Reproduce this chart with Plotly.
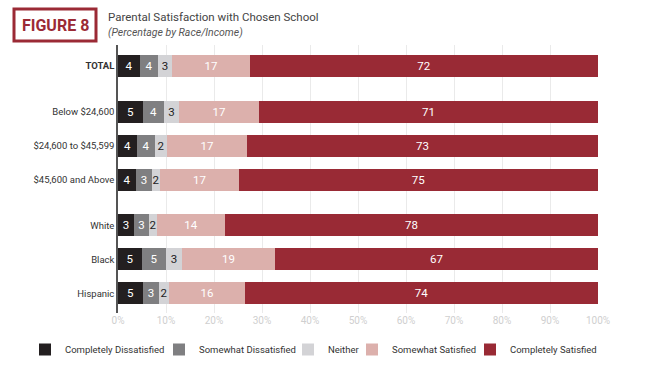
import plotly.graph_objects as go

categories = ["TOTAL", "Below $24,600", "$24,600 to $45,599", "$45,600 and Above",
              "White", "Black", "Hispanic"]
groups = [0, 1, 1, 1, 2, 2, 2]
series_names = ["Completely Dissatisfied", "Somewhat Dissatisfied", "Neither",
                "Somewhat Satisfied", "Completely Satisfied"]

# bar lengths (percent)
completely_dissatisfied = [4.5, 5.2, 4.0, 3.7, 3.3, 4.9, 5.2]
somewhat_dissatisfied = [3.8, 4.3, 3.8, 3.3, 3.1, 5.2, 3.3]
neither = [3.0, 3.2, 2.4, 1.7, 1.7, 3.3, 2.1]
somewhat_satisfied = [16.3, 16.6, 16.6, 16.6, 14.2, 19.4, 15.8]
completely_satisfied = [72.4, 70.7, 73.2, 74.7, 77.6, 67.3, 73.6]

# printed labels
lbl_completely_dissatisfied = [4, 5, 4, 4, 3, 5, 5]
lbl_somewhat_dissatisfied = [4, 4, 4, 3, 3, 5, 3]
lbl_neither = [3, 3, 2, 2, 2, 3, 2]
lbl_somewhat_satisfied = [17, 17, 17, 17, 14, 19, 16]
lbl_completely_satisfied = [72, 71, 73, 75, 78, 67, 74]

tick_vals = [0, 10, 20, 30, 40, 50, 60, 70, 80, 90, 100]
tick_text = ["0%", "10%", "20%", "30%", "40%", "50%", "60%", "70%", "80%", "90%", "100%"]

colors = ["#231f20", "#7f7f81", "#d3d3d6", "#dcb0ac", "#992a35"]
text_colors = ["#ffffff", "#ffffff", "#222222", "#ffffff", "#ffffff"]

values = [completely_dissatisfied, somewhat_dissatisfied, neither,
          somewhat_satisfied, completely_satisfied]
labels = [lbl_completely_dissatisfied, lbl_somewhat_dissatisfied, lbl_neither,
          lbl_somewhat_satisfied, lbl_completely_satisfied]

# vertical layout: rows stacked top to bottom, extra gap between groups
gap = 0.34
n = len(categories)
ypos = [(n - 1 - i) + (groups[-1] - groups[i]) * gap for i in range(n)]

FONT = "Roboto, Liberation Sans, Arial, sans-serif"

# plot-area geometry in pixels (used to place paper-referenced items)
W, H = 647, 375
ML, MR, MT, MB = 118, 49, 45, 62
PW, PH = W - ML - MR, H - MT - MB


def px_x(p):
    return (p - ML) / PW


def px_y(p):
    return (H - MB - p) / PH


# legend item left positions (pixels), one legend per series
legend_left = [25, 159, 288, 352, 470]
legend_names = ["legend", "legend2", "legend3", "legend4", "legend5"]

fig = go.Figure()
for name, vals, lbls, c, tc, lg in zip(series_names, values, labels, colors,
                                       text_colors, legend_names):
    fig.add_trace(go.Bar(
        name=name, x=vals, y=ypos, orientation="h",
        marker=dict(color=c, line=dict(width=0)),
        text=[str(v) for v in lbls], textposition="inside", insidetextanchor="middle",
        textangle=0,
        textfont=dict(color=tc, size=11.5, family=FONT),
        insidetextfont=dict(color=tc, size=11.5, family=FONT),
        constraintext="none", width=0.65, hoverinfo="skip",
        legend=lg,
    ))

ticktext_y = ["<b>TOTAL</b>"] + categories[1:]

layout_legends = {}
for lg, left in zip(legend_names, legend_left):
    layout_legends[lg] = dict(
        orientation="h", x=px_x(left), xanchor="left",
        y=px_y(335), yanchor="top", bgcolor="rgba(0,0,0,0)",
        font=dict(size=9.5, color="#333333", family=FONT),
        itemwidth=30, tracegroupgap=0,
    )

fig.update_layout(
    barmode="stack",
    width=W, height=H,
    margin=dict(l=ML, r=MR, t=MT, b=MB, autoexpand=False),
    paper_bgcolor="white", plot_bgcolor="white",
    font=dict(family=FONT, color="#333333"),
    showlegend=True,
    xaxis=dict(range=[0, 100], tickvals=tick_vals, ticktext=tick_text,
               showgrid=True, gridcolor="#eaeaea", gridwidth=1,
               zeroline=False, showline=False, ticks="",
               tickfont=dict(size=10, color="#cfcfcf", family=FONT)),
    yaxis=dict(range=[-0.58, 7.3], tickvals=ypos, ticktext=ticktext_y,
               showgrid=False, zeroline=False, showline=True, linecolor="#555555",
               linewidth=1.5, ticks="", ticklen=0,
               tickfont=dict(size=9.5, color="#333333", family=FONT)),
    bargap=0,
    uniformtext=dict(mode="show", minsize=8),
    **layout_legends,
)

# Figure box and titles
fig.add_shape(type="rect", xref="paper", yref="paper",
              x0=px_x(14), x1=px_x(96), y0=px_y(41), y1=px_y(9),
              line=dict(color="#9b2a35", width=3), fillcolor="white")
fig.add_annotation(text="<b>FIGURE 8</b>", xref="paper", yref="paper",
                   x=px_x(55), y=px_y(25), showarrow=False,
                   xanchor="center", yanchor="middle",
                   font=dict(size=16, color="#9b2a35", family=FONT))
fig.add_annotation(text="Parental Satisfaction with Chosen School", xref="paper", yref="paper",
                   x=px_x(106), y=px_y(17), showarrow=False,
                   xanchor="left", yanchor="middle",
                   font=dict(size=11.5, color="#444444", family=FONT))
fig.add_annotation(text="<i>(Percentage by Race/Income)</i>", xref="paper", yref="paper",
                   x=px_x(106), y=px_y(32), showarrow=False,
                   xanchor="left", yanchor="middle",
                   font=dict(size=10.5, color="#555555", family=FONT))

fig.write_html("out.html", config={"displayModeBar": False},
               post_script="document.body.style.margin='0';")
